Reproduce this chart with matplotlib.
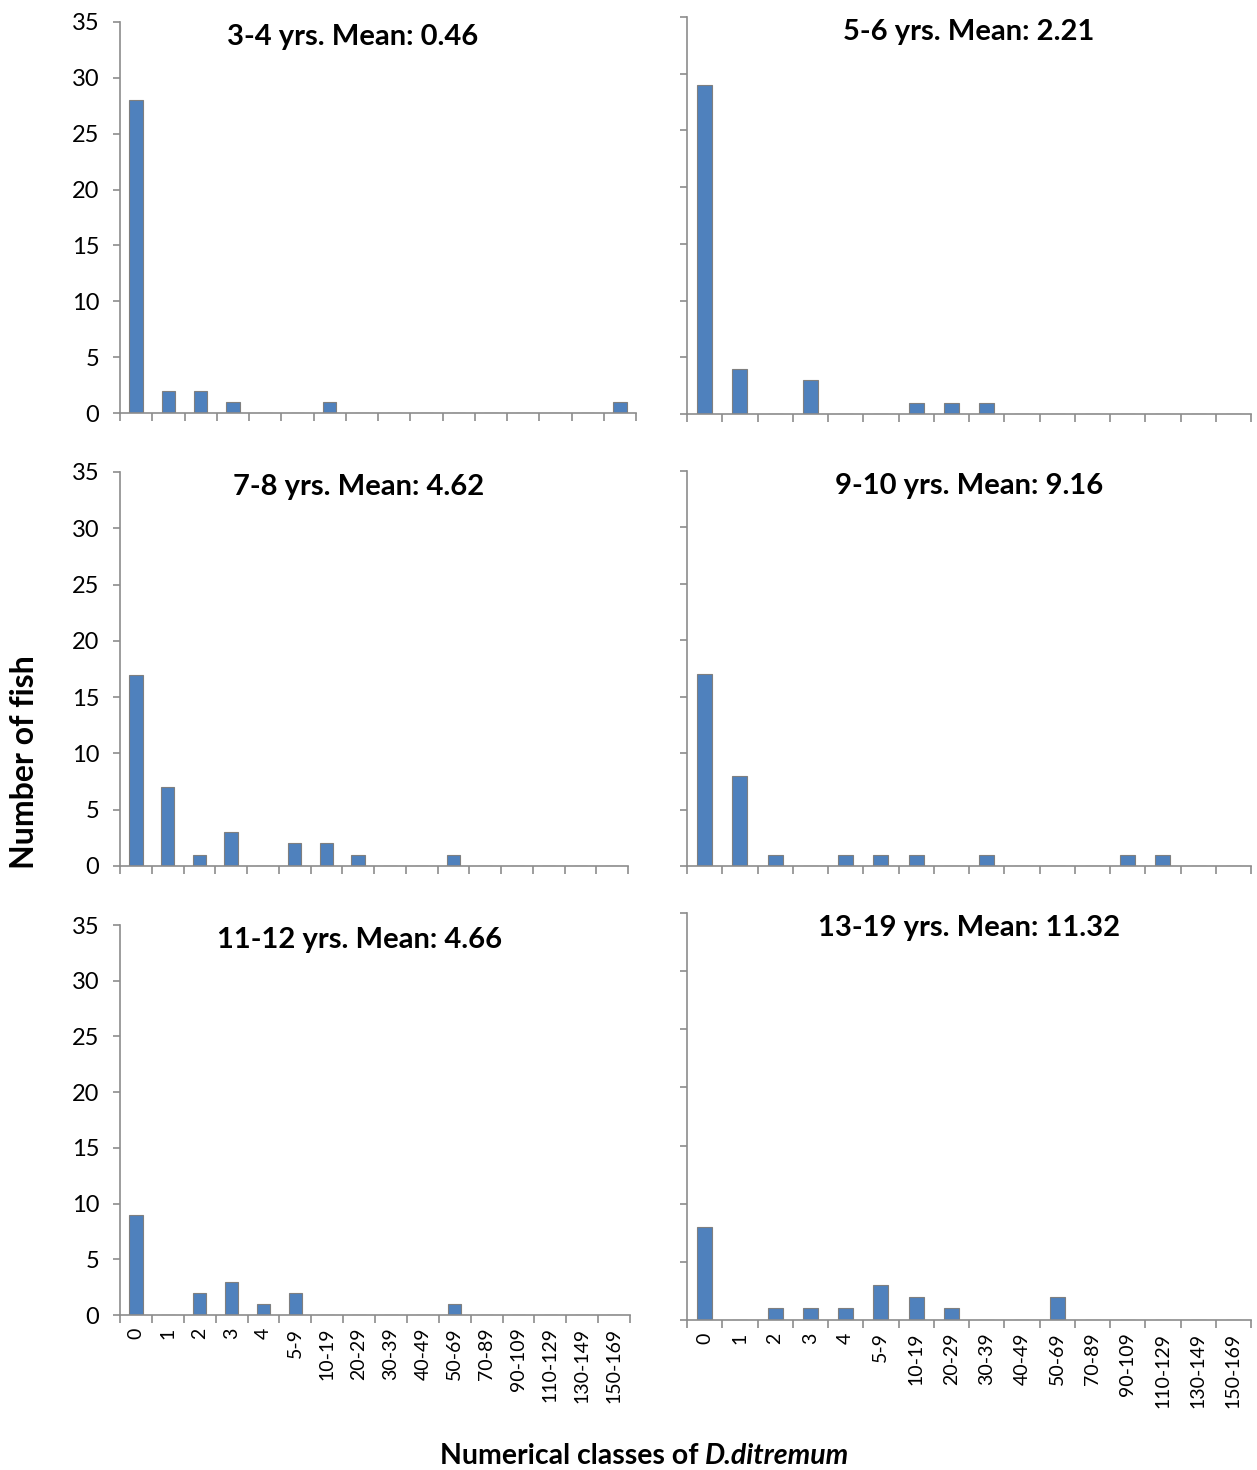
import numpy as np
import matplotlib
matplotlib.use("Agg")
import matplotlib.pyplot as plt

plt.rcParams['font.family'] = ['Lato', 'DejaVu Sans']

classes = ['0', '1', '2', '3', '4', '5-9', '10-19', '20-29', '30-39', '40-49',
           '50-69', '70-89', '90-109', '110-129', '130-149', '150-169']

titles = ['3-4 yrs. Mean: 0.46', '5-6 yrs. Mean: 2.21',
          '7-8 yrs. Mean: 4.62', '9-10 yrs. Mean: 9.16',
          '11-12 yrs. Mean: 4.66', '13-19 yrs. Mean: 11.32']

age_3_4 = [28, 2, 2, 1, 0, 0, 1, 0, 0, 0, 0, 0, 0, 0, 0, 1]
age_5_6 = [29, 4, 0, 3, 0, 0, 1, 1, 1, 0, 0, 0, 0, 0, 0, 0]
age_7_8 = [17, 7, 1, 3, 0, 2, 2, 1, 0, 0, 1, 0, 0, 0, 0, 0]
age_9_10 = [17, 8, 1, 0, 1, 1, 1, 0, 1, 0, 0, 0, 1, 1, 0, 0]
age_11_12 = [9, 0, 2, 3, 1, 2, 0, 0, 0, 0, 1, 0, 0, 0, 0, 0]
age_13_19 = [8, 0, 1, 1, 1, 3, 2, 1, 0, 0, 2, 0, 0, 0, 0, 0]
series = [age_3_4, age_5_6, age_7_8, age_9_10, age_11_12, age_13_19]

W, H = 1257, 1470
fig = plt.figure(figsize=(W / 100, H / 100), dpi=100)

# axes boxes in pixels: left, top, right, bottom
boxes = [(120, 22, 636, 413), (687, 17, 1251, 414),
         (120, 472, 628, 866), (687, 471, 1251, 866),
         (120, 925, 630, 1315), (687, 913, 1251, 1320)]
title_x = [0.45, 0.5, 0.47, 0.5, 0.47, 0.5]

grey = '#8c8c8c'
x = np.arange(len(classes))

for i, (l, t, r, b) in enumerate(boxes):
    ax = fig.add_axes([l / W, 1 - b / H, (r - l) / W, (b - t) / H])
    ax.bar(x, series[i], width=0.42, color='#4f81bd', edgecolor='#7f7f7f', linewidth=0.8)
    ax.set_xlim(-0.5, len(classes) - 0.5)
    ax.set_ylim(0, 35)
    for s in ['top', 'right']:
        ax.spines[s].set_visible(False)
    for s in ['left', 'bottom']:
        ax.spines[s].set_color(grey)
        ax.spines[s].set_linewidth(1.2)
    ax.set_yticks(range(0, 36, 5))
    ax.tick_params(axis='y', direction='out', length=5, color=grey, width=1.2,
                   labelsize=17, pad=10)
    ax.set_xticks(np.arange(-0.5, len(classes)))
    ax.set_xticklabels([])
    ax.tick_params(axis='x', which='major', direction='out', length=6, color=grey, width=1.2)
    if i % 2 == 1:
        ax.set_yticklabels([])
    if i >= 4:
        ax.set_xticks(x, minor=True)
        ax.set_xticklabels(classes, minor=True, rotation=90, fontsize=14)
        ax.tick_params(axis='x', which='minor', length=0, pad=9)
    ax.text(title_x[i], 0.995, titles[i], transform=ax.transAxes, ha='center', va='top',
            fontsize=21, fontweight='bold')

fig.text(25 / W, 1 - 762 / H, 'Number of fish', rotation=90, ha='center', va='center',
         fontsize=23, fontweight='bold')
fig.text(705 / W, 1 - 1456 / H, 'Numerical classes of ', ha='right', va='center',
         fontsize=20.5, fontweight='bold')
fig.text(705 / W, 1 - 1456 / H, 'D.ditremum', ha='left', va='center',
         fontsize=20.5, fontweight='bold', style='italic')

fig.savefig('out.png', dpi=100)
